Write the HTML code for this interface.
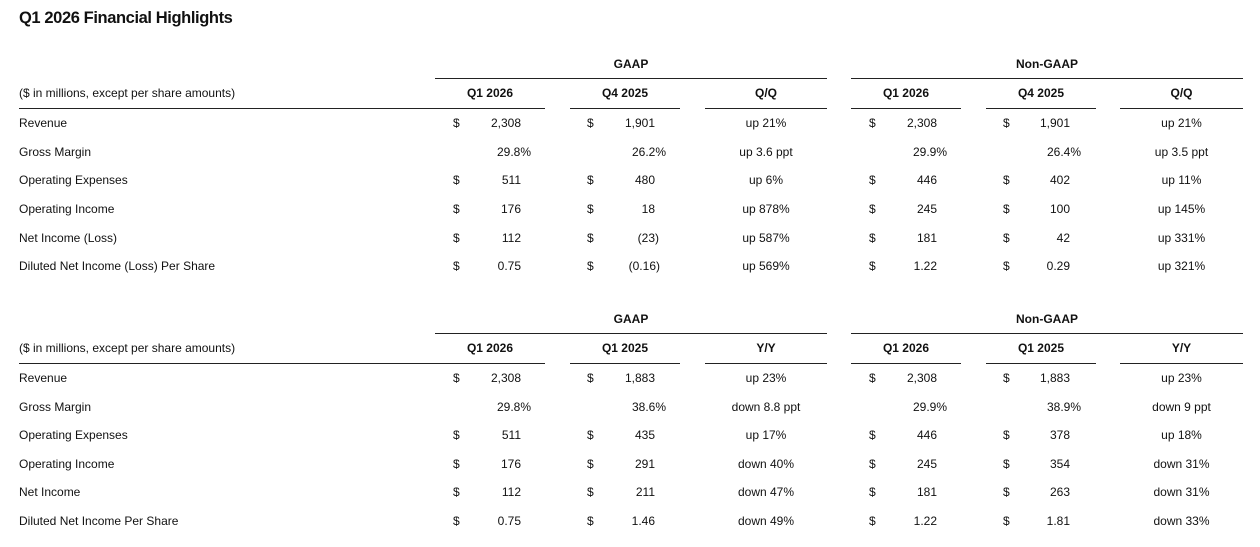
<!DOCTYPE html>
<html><head><meta charset="utf-8"><style>
body{margin:0;width:1260px;height:546px;background:#fff;position:relative;overflow:hidden;font-family:"Liberation Sans",Arial,sans-serif;font-size:12px;color:#111}
#w{position:absolute;left:0;top:1px;width:1260px;height:546px}
h1{position:absolute;left:19px;top:9px;margin:0;font-size:16.5px;font-weight:bold;letter-spacing:-0.4px;color:#111}
.r{position:absolute;left:0;width:1260px;height:14px;line-height:14px}
.r span{position:absolute;white-space:nowrap}
.l{left:19px}
.d1{left:453px}.v1{right:739px}.p1{right:729px}
.d2{left:587px}.v2{right:605px}.p2{right:594px}
.c3{left:705px;width:122px;text-align:center}
.d4{left:869px}.v4{right:323px}.p4{right:313px}
.d5{left:1003px}.v5{right:190px}.p5{right:179px}
.c6{left:1120px;width:123px;text-align:center}
.h span{font-weight:bold}
.h1{left:435px;width:110px;text-align:center}
.h2{left:570px;width:110px;text-align:center}
.h4{left:851px;width:110px;text-align:center}
.h5{left:986px;width:110px;text-align:center}
.g1{left:435px;width:392px;text-align:center}
.g2{left:851px;width:392px;text-align:center}
.ln{position:absolute;height:1px;background:#222}
</style></head><body>
<h1>Q1 2026 Financial Highlights</h1>
<div id="w">
<!-- table 1 -->
<div class="r h" style="top:56px"><span class="g1">GAAP</span><span class="g2">Non-GAAP</span></div>
<div class="ln" style="left:435px;width:392px;top:77px"></div>
<div class="ln" style="left:851px;width:392px;top:77px"></div>
<div class="r h" style="top:85px"><span class="l" style="font-weight:normal">($ in millions, except per share amounts)</span><span class="h1">Q1 2026</span><span class="h2">Q4 2025</span><span class="c3">Q/Q</span><span class="h4">Q1 2026</span><span class="h5">Q4 2025</span><span class="c6">Q/Q</span></div>
<div class="ln" style="left:19px;width:526px;top:107px"></div>
<div class="ln" style="left:570px;width:110px;top:107px"></div>
<div class="ln" style="left:705px;width:122px;top:107px"></div>
<div class="ln" style="left:851px;width:110px;top:107px"></div>
<div class="ln" style="left:986px;width:110px;top:107px"></div>
<div class="ln" style="left:1120px;width:123px;top:107px"></div>
<div class="r" style="top:115px"><span class="l">Revenue</span><span class="d1">$</span><span class="v1">2,308</span><span class="d2">$</span><span class="v2">1,901</span><span class="c3">up 21%</span><span class="d4">$</span><span class="v4">2,308</span><span class="d5">$</span><span class="v5">1,901</span><span class="c6">up 21%</span></div>
<div class="r" style="top:144px"><span class="l">Gross Margin</span><span class="p1">29.8%</span><span class="p2">26.2%</span><span class="c3">up 3.6 ppt</span><span class="p4">29.9%</span><span class="p5">26.4%</span><span class="c6">up 3.5 ppt</span></div>
<div class="r" style="top:172px"><span class="l">Operating Expenses</span><span class="d1">$</span><span class="v1">511</span><span class="d2">$</span><span class="v2">480</span><span class="c3">up 6%</span><span class="d4">$</span><span class="v4">446</span><span class="d5">$</span><span class="v5">402</span><span class="c6">up 11%</span></div>
<div class="r" style="top:201px"><span class="l">Operating Income</span><span class="d1">$</span><span class="v1">176</span><span class="d2">$</span><span class="v2">18</span><span class="c3">up 878%</span><span class="d4">$</span><span class="v4">245</span><span class="d5">$</span><span class="v5">100</span><span class="c6">up 145%</span></div>
<div class="r" style="top:230px"><span class="l">Net Income (Loss)</span><span class="d1">$</span><span class="v1">112</span><span class="d2">$</span><span class="v2" style="right:601px">(23)</span><span class="c3">up 587%</span><span class="d4">$</span><span class="v4">181</span><span class="d5">$</span><span class="v5">42</span><span class="c6">up 331%</span></div>
<div class="r" style="top:258px"><span class="l">Diluted Net Income (Loss) Per Share</span><span class="d1">$</span><span class="v1">0.75</span><span class="d2">$</span><span class="v2" style="right:600px">(0.16)</span><span class="c3">up 569%</span><span class="d4">$</span><span class="v4">1.22</span><span class="d5">$</span><span class="v5">0.29</span><span class="c6">up 321%</span></div>

<!-- table 2 -->
<div class="r h" style="top:311px"><span class="g1">GAAP</span><span class="g2">Non-GAAP</span></div>
<div class="ln" style="left:435px;width:392px;top:332px"></div>
<div class="ln" style="left:851px;width:392px;top:332px"></div>
<div class="r h" style="top:340px"><span class="l" style="font-weight:normal">($ in millions, except per share amounts)</span><span class="h1">Q1 2026</span><span class="h2">Q1 2025</span><span class="c3">Y/Y</span><span class="h4">Q1 2026</span><span class="h5">Q1 2025</span><span class="c6">Y/Y</span></div>
<div class="ln" style="left:19px;width:526px;top:362px"></div>
<div class="ln" style="left:570px;width:110px;top:362px"></div>
<div class="ln" style="left:705px;width:122px;top:362px"></div>
<div class="ln" style="left:851px;width:110px;top:362px"></div>
<div class="ln" style="left:986px;width:110px;top:362px"></div>
<div class="ln" style="left:1120px;width:123px;top:362px"></div>
<div class="r" style="top:370px"><span class="l">Revenue</span><span class="d1">$</span><span class="v1">2,308</span><span class="d2">$</span><span class="v2">1,883</span><span class="c3">up 23%</span><span class="d4">$</span><span class="v4">2,308</span><span class="d5">$</span><span class="v5">1,883</span><span class="c6">up 23%</span></div>
<div class="r" style="top:399px"><span class="l">Gross Margin</span><span class="p1">29.8%</span><span class="p2">38.6%</span><span class="c3">down 8.8 ppt</span><span class="p4">29.9%</span><span class="p5">38.9%</span><span class="c6">down 9 ppt</span></div>
<div class="r" style="top:427px"><span class="l">Operating Expenses</span><span class="d1">$</span><span class="v1">511</span><span class="d2">$</span><span class="v2">435</span><span class="c3">up 17%</span><span class="d4">$</span><span class="v4">446</span><span class="d5">$</span><span class="v5">378</span><span class="c6">up 18%</span></div>
<div class="r" style="top:456px"><span class="l">Operating Income</span><span class="d1">$</span><span class="v1">176</span><span class="d2">$</span><span class="v2">291</span><span class="c3">down 40%</span><span class="d4">$</span><span class="v4">245</span><span class="d5">$</span><span class="v5">354</span><span class="c6">down 31%</span></div>
<div class="r" style="top:484px"><span class="l">Net Income</span><span class="d1">$</span><span class="v1">112</span><span class="d2">$</span><span class="v2">211</span><span class="c3">down 47%</span><span class="d4">$</span><span class="v4">181</span><span class="d5">$</span><span class="v5">263</span><span class="c6">down 31%</span></div>
<div class="r" style="top:513px"><span class="l">Diluted Net Income Per Share</span><span class="d1">$</span><span class="v1">0.75</span><span class="d2">$</span><span class="v2">1.46</span><span class="c3">down 49%</span><span class="d4">$</span><span class="v4">1.22</span><span class="d5">$</span><span class="v5">1.81</span><span class="c6">down 33%</span></div>
</div>
</body></html>
